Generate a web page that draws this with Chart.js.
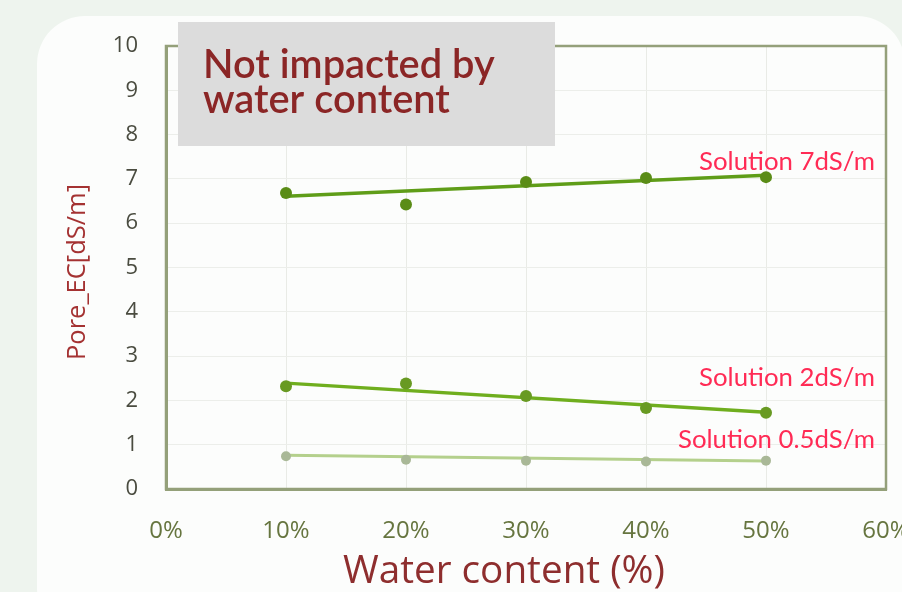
<!DOCTYPE html>
<html>
<head>
<meta charset="utf-8">
<script src="https://cdn.jsdelivr.net/npm/chart.js@4.4.1/dist/chart.umd.min.js"></script>
<style>
    html, body { margin: 0; padding: 0; }
    body { width: 902px; height: 592px; background: #eef4ee; position: relative; overflow: hidden; }
    #card {
        position: absolute; left: 37px; top: 16px; width: 868px; height: 620px;
        background: #fcfdfc; border-radius: 48px;
    }
    #chart { position: absolute; left: 0; top: 0; }
</style>
</head>
<body>
<div id="card"></div>
<canvas id="chart" width="902" height="592"></canvas>
<script>
// valores
const waterContent = [10, 20, 30, 40, 50];
const ec7  = [6.68, 6.42, 6.93, 7.02, 7.04];
const ec2  = [2.32, 2.38, 2.10, 1.83, 1.72];
const ec05 = [0.74, 0.66, 0.64, 0.62, 0.64];

// líneas de tendencia (extremos en 10% y 50%)
const trendX  = [10, 50];
const trend7  = [6.61, 7.08];
const trend2  = [2.39, 1.73];
const trend05 = [0.76, 0.63];

const xTicks = [0, 10, 20, 30, 40, 50, 60];
const yTicks = [0, 1, 2, 3, 4, 5, 6, 7, 8, 9, 10];

const seriesLabels = ['Solution 7dS/m', 'Solution 2dS/m', 'Solution 0.5dS/m'];
const boxText = ['Not impacted by', 'water content'];

const pts = (xs, ys) => xs.map((x, i) => ({ x, y: ys[i] }));

// texto ajustado a un ancho
function fitFont(ctx, text, width, weight, family) {
    ctx.font = `${weight} 100px ${family}`;
    const w = ctx.measureText(text).width;
    return `${weight} ${(100 * width / w).toFixed(1)}px ${family}`;
}

const extras = {
    id: 'extras',
    afterDraw(chart) {
        const { ctx, chartArea: a } = chart;
        ctx.save();

        // marco del área
        ctx.strokeStyle = '#94a07a';
        ctx.lineWidth = 2.5;
        ctx.strokeRect(a.left, a.top, a.right - a.left, a.bottom - a.top);

        // recuadro gris
        ctx.fillStyle = '#dcdcdc';
        ctx.fillRect(178, 22, 377, 124);
        ctx.fillStyle = '#8b2626';
        ctx.textAlign = 'left';
        ctx.textBaseline = 'alphabetic';
        ctx.font = fitFont(ctx, boxText[0], 292, '600', 'Lato');
        ctx.fillText(boxText[0], 203, 78);
        ctx.fillText(boxText[1], 203, 113);

        // etiquetas de series
        ctx.fillStyle = '#ff2b55';
        ctx.textAlign = 'right';
        ctx.textBaseline = 'middle';
        ctx.font = fitFont(ctx, seriesLabels[0], 176, '400', 'Lato');
        ctx.fillText(seriesLabels[0], 875, 162);
        ctx.fillText(seriesLabels[1], 875, 378);
        ctx.fillText(seriesLabels[2], 875, 440);

        // títulos de ejes
        ctx.fillStyle = '#8e2e2e';
        ctx.textAlign = 'center';
        ctx.font = fitFont(ctx, 'Water content (%)', 322, '400', '"Open Sans"');
        ctx.fillText('Water content (%)', 504, 572);

        ctx.translate(78, 272);
        ctx.rotate(-Math.PI / 2);
        ctx.fillStyle = '#a43232';
        ctx.font = fitFont(ctx, 'Pore_EC[dS/m]', 176, '400', '"Open Sans"');
        ctx.fillText('Pore_EC[dS/m]', 0, 0);

        ctx.restore();
    }
};

new Chart(document.getElementById('chart'), {
    type: 'scatter',
    data: {
        datasets: [
            { type: 'line', data: pts(trendX, trend05), borderColor: '#b4d08c', borderWidth: 3, pointRadius: 0, order: 6 },
            { type: 'line', data: pts(trendX, trend2),  borderColor: '#6fae1e', borderWidth: 3.5, pointRadius: 0, order: 5 },
            { type: 'line', data: pts(trendX, trend7),  borderColor: '#5f9d18', borderWidth: 3.5, pointRadius: 0, order: 4 },
            { data: pts(waterContent, ec05), backgroundColor: '#a9b897', borderWidth: 0, pointRadius: 5, order: 3 },
            { data: pts(waterContent, ec2),  backgroundColor: '#689a22', borderWidth: 0, pointRadius: 6, order: 2 },
            { data: pts(waterContent, ec7),  backgroundColor: '#5a8c16', borderWidth: 0, pointRadius: 6, order: 1 },
        ]
    },
    options: {
        responsive: false,
        animation: false,
        layout: { padding: { top: 46, right: 16, left: 0, bottom: 0 } },
        plugins: { legend: { display: false }, tooltip: { enabled: false } },
        scales: {
            x: {
                type: 'linear', min: 0, max: 60,
                afterBuildTicks: s => { s.ticks = xTicks.map(v => ({ value: v })); },
                afterFit: s => { s.height = 103; s.paddingLeft = 0; s.paddingRight = 0; },
                ticks: {
                    callback: v => v + '%',
                    color: '#66753f', padding: 28,
                    font: { family: '"Open Sans"', size: 24 }
                },
                grid: { color: '#e9ebe6', drawTicks: false },
                border: { color: '#94a07a', width: 3 }
            },
            y: {
                min: 0, max: 10,
                afterBuildTicks: s => { s.ticks = yTicks.map(v => ({ value: v })); },
                afterFit: s => { s.width = 166; s.paddingTop = 0; s.paddingBottom = 0; },
                ticks: {
                    color: '#4a4c40', padding: 28,
                    font: { family: '"Open Sans"', size: 22 }
                },
                grid: { color: '#eceeea', drawTicks: false },
                border: { color: '#94a07a', width: 3 }
            }
        }
    },
    plugins: [extras]
});
</script>
</body>
</html>
